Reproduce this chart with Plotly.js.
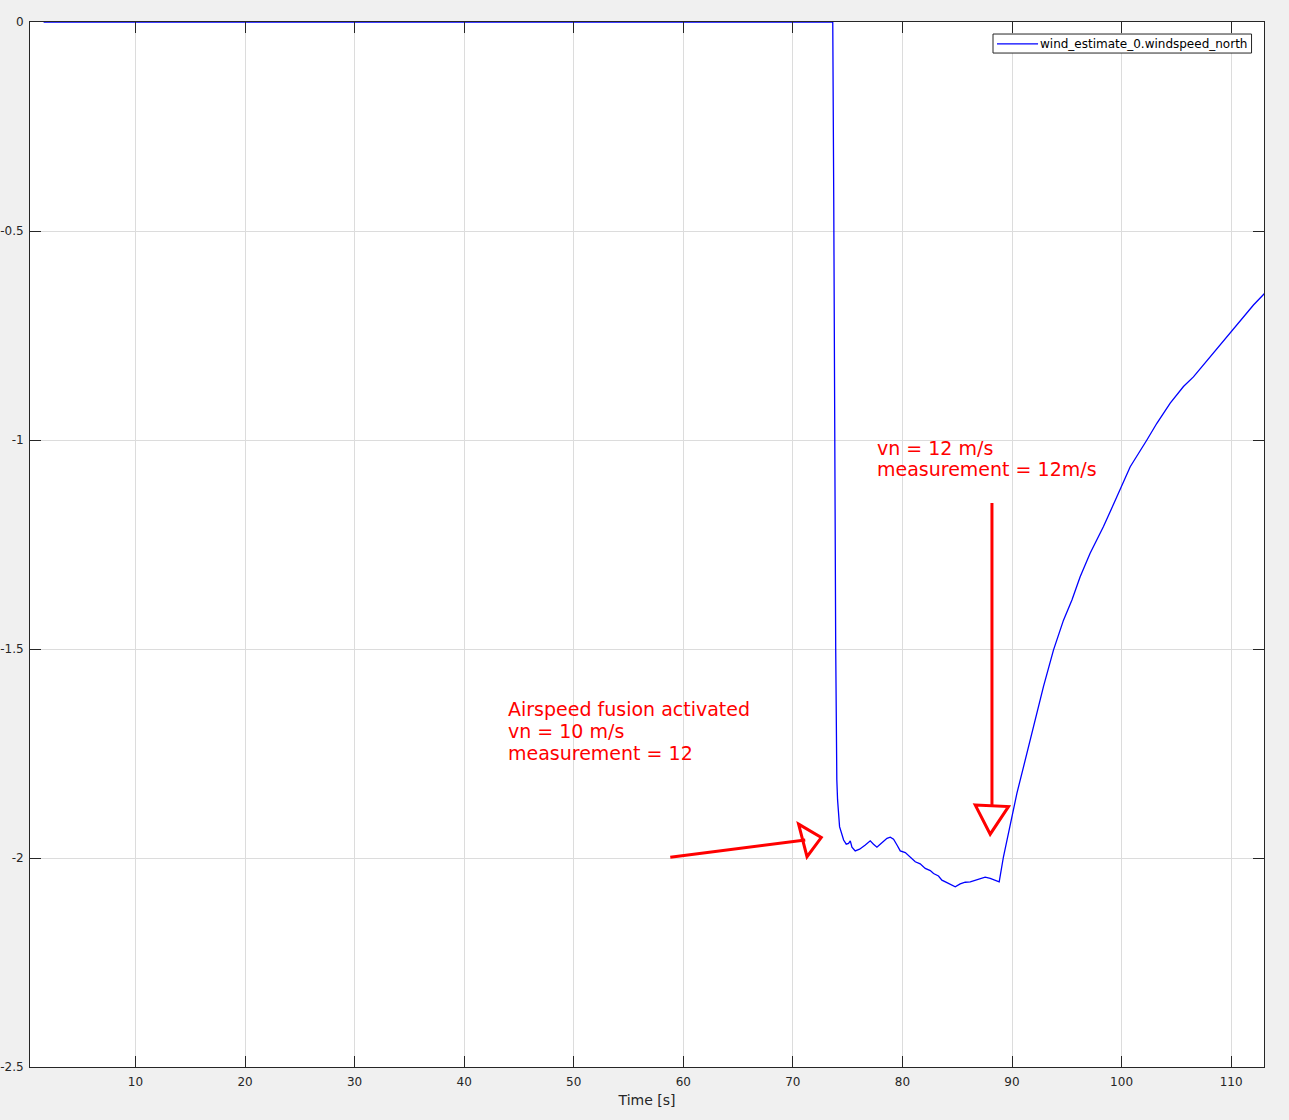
<!DOCTYPE html>
<html>
<head>
<meta charset="utf-8">
<script src="https://cdn.plot.ly/plotly-3.0.1.min.js"></script>
<style>
html, body { margin: 0; padding: 0; background: #f0f0f0; }
#chart { width: 1289px; height: 1120px; }
</style>
</head>
<body>
<div id="chart"></div>
<script>
// ---- data ----
const seriesName = "wind_estimate_0.windspeed_north";
const time = [1.61, 73.64, 73.73, 73.82, 73.91, 74.01, 74.08, 74.26, 74.63, 74.87, 75.08, 75.24, 75.39, 75.69, 76.09, 76.61, 77.06, 77.36, 77.67, 77.97, 78.28, 78.59, 78.89, 79.19, 79.50, 79.80, 80.26, 80.71, 81.17, 81.62, 82.08, 82.54, 82.84, 83.29, 83.60, 84.06, 84.52, 84.82, 85.27, 85.73, 86.19, 86.64, 87.10, 87.55, 88.01, 88.47, 88.83, 89.22, 89.84, 90.45, 91.05, 91.66, 92.27, 92.87, 93.79, 94.70, 95.47, 96.22, 97.13, 98.35, 99.57, 100.79, 102.31, 103.22, 104.44, 105.65, 106.56, 108.08, 109.61, 111.12, 112.04, 113.1];
const windNorth = [0, 0, -0.426, -1.024, -1.502, -1.813, -1.861, -1.925, -1.957, -1.967, -1.965, -1.959, -1.974, -1.983, -1.979, -1.969, -1.959, -1.967, -1.974, -1.967, -1.959, -1.953, -1.950, -1.955, -1.969, -1.983, -1.987, -1.998, -2.009, -2.014, -2.025, -2.030, -2.037, -2.043, -2.053, -2.059, -2.065, -2.069, -2.062, -2.058, -2.057, -2.053, -2.049, -2.046, -2.049, -2.053, -2.057, -1.997, -1.917, -1.845, -1.782, -1.718, -1.654, -1.590, -1.502, -1.431, -1.383, -1.327, -1.271, -1.207, -1.136, -1.064, -1.000, -0.960, -0.912, -0.872, -0.849, -0.801, -0.753, -0.705, -0.677, -0.648];
const xTickVals = [10, 20, 30, 40, 50, 60, 70, 80, 90, 100, 110];
const xTickText = ["10", "20", "30", "40", "50", "60", "70", "80", "90", "100", "110"];
const yTickVals = [0, -0.5, -1, -1.5, -2, -2.5];
const yTickText = ["0", "-0.5", "-1", "-1.5", "-2", "-2.5"];
const note1Lines = ["Airspeed fusion activated", "vn = 10 m/s", "measurement = 12"];
const note2Lines = ["vn = 12 m/s", "measurement = 12m/s"];

// ---- styling ----
const FONT = "DejaVu Sans, Liberation Sans, sans-serif";
const AX = "#262626";
const GRID = "#dcdcdc";
const RED = "#ff0000";
const BLUE = "#0000ff";

const axisCommon = {
  showline: true, linecolor: AX, linewidth: 1, mirror: "ticks",
  ticks: "inside", ticklen: 11, tickcolor: AX, tickwidth: 1,
  showgrid: true, gridcolor: GRID, gridwidth: 1, zeroline: false,
  tickfont: { family: FONT, size: 12, color: AX }
};

const annotations = [];
const note1Y = [-1.644, -1.696, -1.749];
note1Lines.forEach((t, i) => annotations.push({
  x: 43.8, y: note1Y[i], xref: "x", yref: "y", xanchor: "left", yanchor: "middle",
  text: t, showarrow: false, align: "left", font: { family: FONT, size: 19, color: RED }
}));
const note2Y = [-1.019, -1.069];
note2Lines.forEach((t, i) => annotations.push({
  x: 77.52, y: note2Y[i], xref: "x", yref: "y", xanchor: "left", yanchor: "middle",
  text: t, showarrow: false, align: "left", font: { family: FONT, size: 19, color: RED }
}));
// legend label (drawn as a MATLAB-style compact legend box)
annotations.push({
  x: 0.8169, y: 0.9790, xref: "paper", yref: "paper", xanchor: "left", yanchor: "middle",
  text: seriesName, showarrow: false, font: { family: FONT, size: 12, color: "#000000" }
});

const shapes = [
  // white text boxes
  { type: "rect", xref: "x", yref: "y", x0: 43.0, x1: 70.6, y0: -1.615, y1: -1.854, layer: "below",
    fillcolor: "#ffffff", line: { width: 0 } },
  { type: "rect", xref: "x", yref: "y", x0: 77.34, x1: 98.78, y0: -0.988, y1: -1.141, layer: "below",
    fillcolor: "#ffffff", line: { width: 0 } },
  // arrow 1
  { type: "line", xref: "x", yref: "y", x0: 58.81, y0: -1.998, x1: 71.13, y1: -1.957,
    line: { color: RED, width: 3 } },
  { type: "path", xref: "x", yref: "y", path: "M 70.52 -1.919 L 72.59 -1.951 L 71.29 -1.997 Z",
    line: { color: RED, width: 3 }, fillcolor: "rgba(0,0,0,0)" },
  // arrow 2
  { type: "line", xref: "x", yref: "y", x0: 88.17, y0: -1.151, x1: 88.17, y1: -1.873,
    line: { color: RED, width: 3 } },
  { type: "path", xref: "x", yref: "y", path: "M 86.64 -1.873 L 89.68 -1.877 L 88.01 -1.943 Z",
    line: { color: RED, width: 3 }, fillcolor: "rgba(0,0,0,0)" },
  // legend box and sample line
  { type: "rect", xref: "paper", yref: "paper", x0: 0.7804, x1: 0.9899, y0: 0.9703, y1: 0.9885,
    fillcolor: "#ffffff", line: { color: AX, width: 1 } },
  { type: "line", xref: "paper", yref: "paper", x0: 0.7836, x1: 0.8169, y0: 0.9790, y1: 0.9790,
    line: { color: BLUE, width: 1.3 } }
];

const trace = {
  x: time, y: windNorth, type: "scatter", mode: "lines", name: seriesName,
  line: { color: BLUE, width: 1.3 }
};

const layout = {
  width: 1289, height: 1120,
  paper_bgcolor: "#f0f0f0", plot_bgcolor: "#ffffff",
  margin: { l: 30, r: 25, t: 22, b: 53, pad: 0 },
  font: { family: FONT, size: 12, color: AX },
  xaxis: Object.assign({}, axisCommon, {
    range: [0.37, 113.0], tickvals: xTickVals, ticktext: xTickText, ticklabelstandoff: 4,
    title: { text: "Time [s]", font: { family: FONT, size: 14, color: AX }, standoff: 6 }
  }),
  yaxis: Object.assign({}, axisCommon, {
    range: [-2.5, 0], tickvals: yTickVals, ticktext: yTickText, ticklabelstandoff: 3
  }),
  showlegend: false,
  annotations: annotations,
  shapes: shapes
};

Plotly.newPlot("chart", [trace], layout, { displayModeBar: false, staticPlot: true });
</script>
</body>
</html>
